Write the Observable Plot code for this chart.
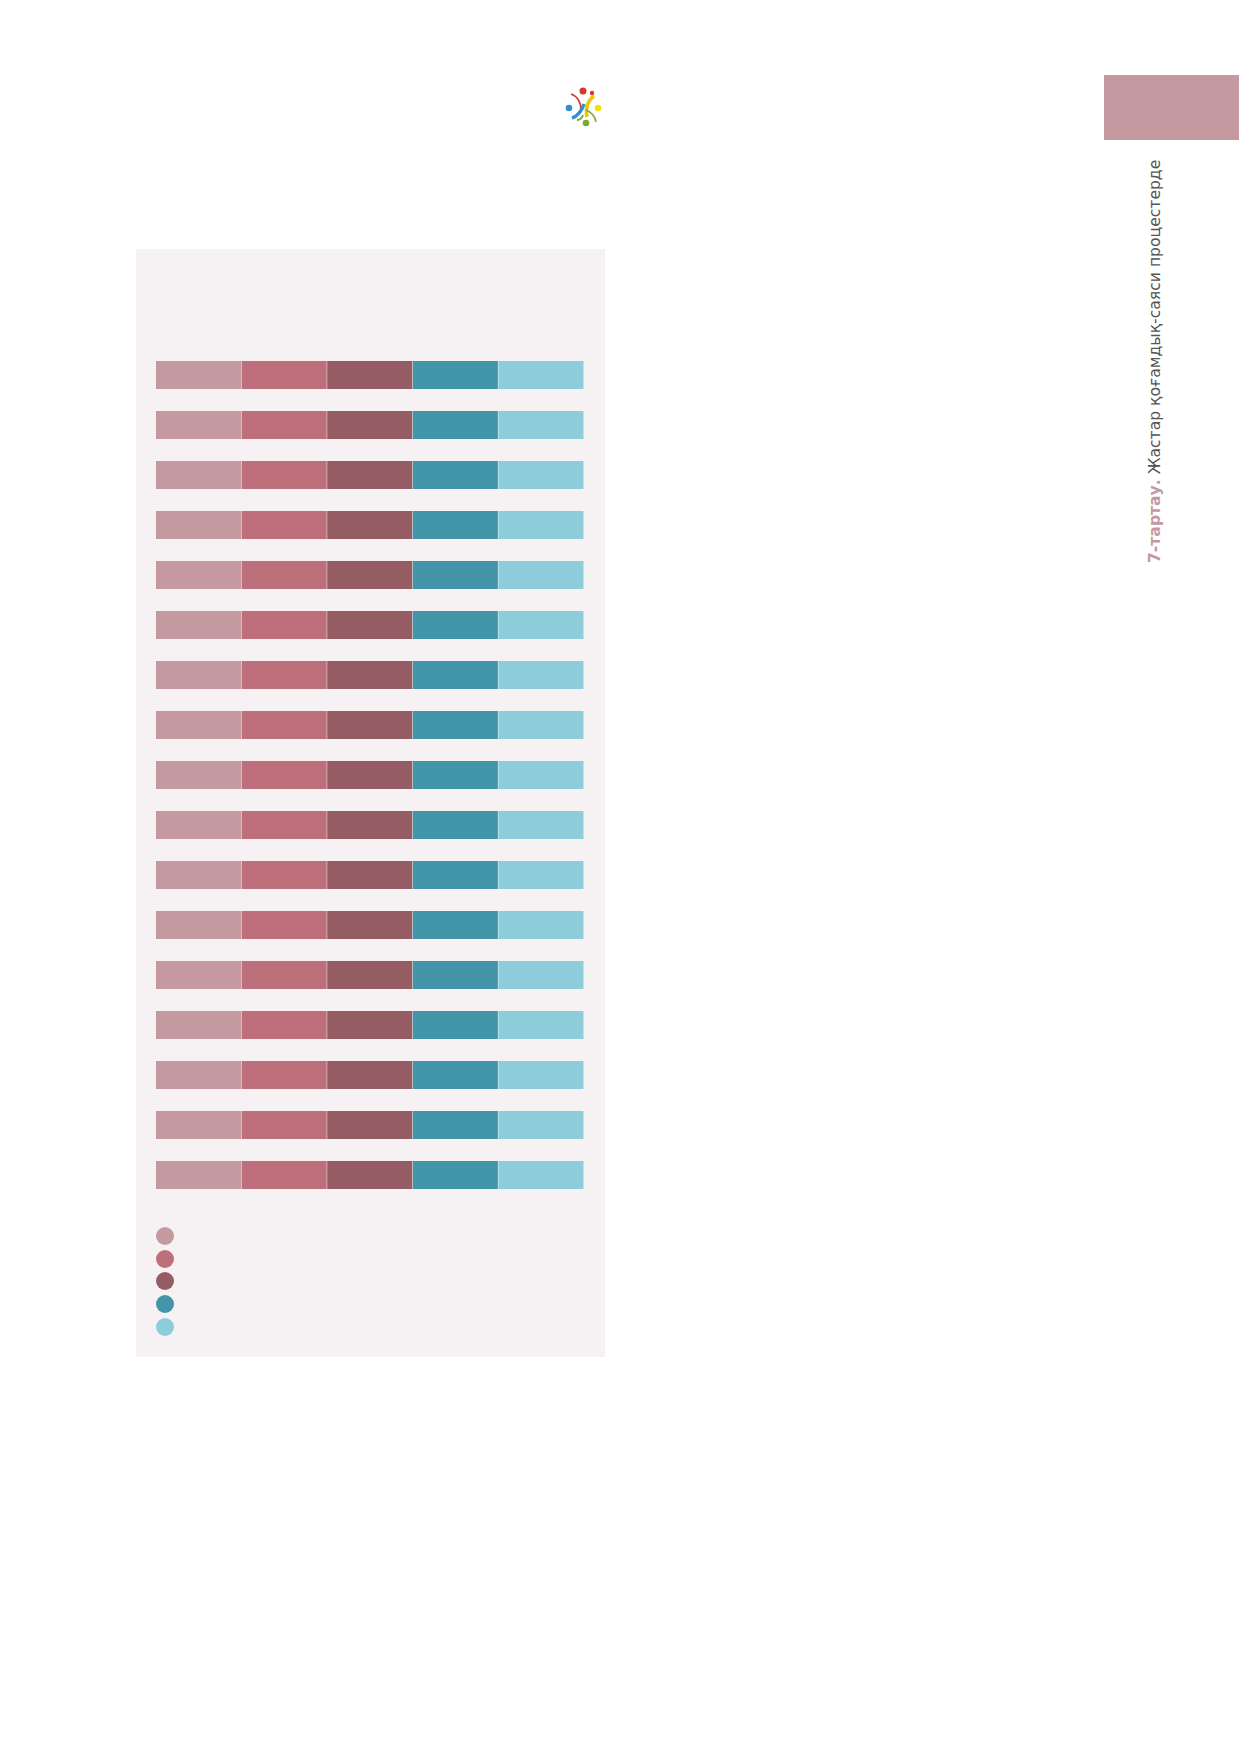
<!DOCTYPE html>
<html>
<head>
<meta charset="utf-8">
<script src="https://cdn.jsdelivr.net/npm/d3@7"></script>
<script src="https://cdn.jsdelivr.net/npm/@observablehq/plot@0.6"></script>
<style>
  html, body { margin: 0; padding: 0; background: #ffffff; }
  body { width: 1239px; height: 1752px; position: relative; overflow: hidden; font-family: "DejaVu Sans", sans-serif; }
  #panel { position: absolute; left: 136px; top: 249px; width: 469px; height: 1108px; background: #f6f2f3; }
  #chart { position: absolute; left: 0; top: 101px; }
  #legend { position: absolute; left: 20px; top: 978px; }
  .lg { width: 18px; height: 18px; border-radius: 50%; margin-bottom: 4.7px; }
  #tab { position: absolute; left: 1104px; top: 75px; width: 135px; height: 65px; background: #c4999f; }
  #vtitle { position: absolute; left: 1146px; top: 563px; transform-origin: 0 0; transform: rotate(-90deg);
            white-space: nowrap; font-size: 15.6px; line-height: 18px; color: #555555; }
  #vtitle b { color: #c4999f; }
  #logo { position: absolute; left: 560px; top: 84px; }
</style>
</head>
<body>
<svg id="logo" width="48" height="46" viewBox="0 0 48 46">
  <path d="M11 10 C17 12 21 18 21 27" fill="none" stroke="#d9372b" stroke-width="1.5"/>
  <path d="M34 12 C28 16 25 24 27 33" fill="none" stroke="#f2c600" stroke-width="3.5"/>
  <path d="M12 34 C18 32 22 26 24 20" fill="none" stroke="#2f8fcf" stroke-width="3.5"/>
  <path d="M26 26 C31 28 35 32 36 38" fill="none" stroke="#7aa83a" stroke-width="1.5"/>
  <path d="M17 36 C20 36 22 34 23 31" fill="none" stroke="#7aa83a" stroke-width="2"/>
  <circle cx="23" cy="7" r="3.5" fill="#d9372b"/>
  <circle cx="32" cy="9" r="2.2" fill="#d9372b"/>
  <circle cx="38" cy="24" r="3.3" fill="#f2e100"/>
  <circle cx="9" cy="24" r="3.3" fill="#2f8fcf"/>
  <circle cx="26" cy="39" r="3.3" fill="#7aa83a"/>
</svg>
<div id="tab"></div>
<div id="vtitle"><b>7-тартау.</b> Жастар қоғамдық-саяси процестерде</div>
<div id="panel">
  <div id="chart"></div>
  <div id="legend"></div>
</div>
<script>
// Rows (unlabelled in the reference)
const categories = ["1","2","3","4","5","6","7","8","9","10","11","12","13","14","15","16","17"];
// Series names and colours (legend has no visible text)
const seriesNames = ["s1","s2","s3","s4","s5"];
const seriesColors = ["#c4999f","#bd707b","#955c64","#4396a9","#8dcdda"];
// Values per series (percent): all segments equal
const s1 = [20,20,20,20,20,20,20,20,20,20,20,20,20,20,20,20,20];
const s2 = [20,20,20,20,20,20,20,20,20,20,20,20,20,20,20,20,20];
const s3 = [20,20,20,20,20,20,20,20,20,20,20,20,20,20,20,20,20];
const s4 = [20,20,20,20,20,20,20,20,20,20,20,20,20,20,20,20,20];
const s5 = [20,20,20,20,20,20,20,20,20,20,20,20,20,20,20,20,20];

const seriesValues = [s1, s2, s3, s4, s5];
const table = [];
categories.forEach((c, i) => {
  seriesNames.forEach((s, j) => table.push({cat: c, series: s, value: seriesValues[j][i]}));
});

const chart = Plot.plot({
  width: 469,
  height: 850,
  marginTop: 0,
  marginBottom: 0,
  marginLeft: 20,
  marginRight: 21,
  style: {background: "transparent"},
  x: {domain: [0, 100], axis: null},
  y: {domain: categories, axis: null, paddingInner: 0.44, paddingOuter: 0.22},
  color: {domain: seriesNames, range: seriesColors},
  marks: [
    Plot.barX(table, Plot.stackX({x: "value", y: "cat", fill: "series", order: seriesNames, insetRight: 0.5}))
  ]
});
document.getElementById("chart").appendChild(chart);

const legend = document.getElementById("legend");
seriesColors.forEach(c => {
  const d = document.createElement("div");
  d.className = "lg";
  d.style.background = c;
  legend.appendChild(d);
});
</script>
</body>
</html>
